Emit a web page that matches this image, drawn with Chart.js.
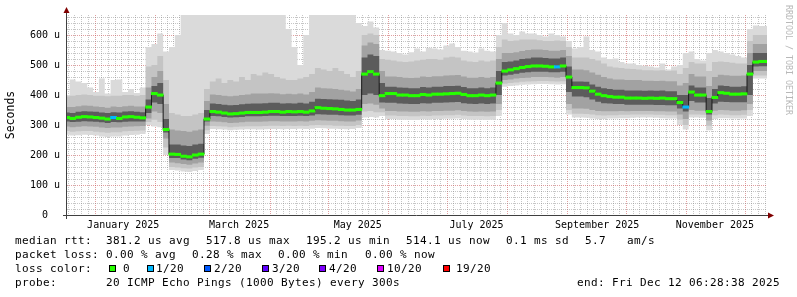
<!DOCTYPE html>
<html>
<head>
<meta charset="utf-8">
<script src="https://cdn.jsdelivr.net/npm/chart.js@4/dist/chart.umd.min.js"></script>
<style>
html, body { margin: 0; padding: 0; background: #fff; }
#wrap { position: relative; width: 797px; height: 297px; overflow: hidden; }
#c { position: absolute; left: 0; top: 0; }
.t { position: absolute; font-family: 'DejaVu Sans Mono', monospace; font-size: 11px; letter-spacing: 0.38px;
     line-height: 14px; color: #000; white-space: pre; }
.b { position: absolute; width: 5px; height: 5px; border: 1px solid #000; }
</style>
</head>
<body>
<div id="wrap"><canvas id="c" width="797" height="297"></canvas></div>
<script>
// sample days, counted from 1 Jan 2025 (one sample every 3 days)
var days = [
  -14.5,-11.5,-8.5,-5.5,-2.5,0.5,3.5,6.5,9.5,12.5,
  15.5,18.5,21.5,24.5,27.5,30.5,33.5,36.5,39.5,42.5,
  45.5,48.5,51.5,54.5,57.5,60.5,63.5,66.5,69.5,72.5,
  75.5,78.5,81.5,84.5,87.5,90.5,93.5,96.5,99.5,102.5,
  105.5,108.5,111.5,114.5,117.5,120.5,123.5,126.5,129.5,132.5,
  135.5,138.5,141.5,144.5,147.5,150.5,153.5,156.5,159.5,162.5,
  165.5,168.5,171.5,174.5,177.5,180.5,183.5,186.5,189.5,192.5,
  195.5,198.5,201.5,204.5,207.5,210.5,213.5,216.5,219.5,222.5,
  225.5,228.5,231.5,234.5,237.5,240.5,243.5,246.5,249.5,252.5,
  255.5,258.5,261.5,264.5,267.5,270.5,273.5,276.5,279.5,282.5,
  285.5,288.5,291.5,294.5,297.5,300.5,303.5,306.5,309.5,312.5,
  315.5,318.5,321.5,324.5,327.5,330.5,333.5,336.5,339.5,342.5,
  345.5
];

// median rtt (microseconds)
var medianRtt = [
  325,322,326,328,327,325,323,320,325,322,
  327,328,326,324,360,405,400,285,203,202,
  196,194,200,203,320,345,343,340,337,338,
  340,342,342,342,343,345,345,343,345,344,
  345,343,347,358,356,355,354,352,350,350,
  352,470,478,470,398,405,405,400,400,398,
  398,402,400,403,403,404,405,406,402,398,
  398,400,398,400,440,480,484,488,492,495,
  497,497,496,494,494,497,460,425,425,424,
  413,403,398,395,393,393,390,390,390,389,
  390,389,390,388,388,375,360,410,400,400,
  345,392,408,406,403,403,404,470,510,512,
  512
];

// lost pings out of 20 for each sample
var lossPings = [
  0,0,0,0,0,0,0,0,1,0, 0,0,0,0,0,0,0,0,0,0,
  0,0,0,0,0,0,0,0,0,0, 0,0,0,0,0,0,0,0,0,0,
  0,0,0,0,0,0,0,0,0,0, 0,0,0,0,0,0,0,0,0,0,
  0,0,0,0,0,0,0,0,0,0, 0,0,0,0,0,0,0,0,0,0,
  0,0,0,0,1,0,0,0,0,0, 0,0,0,0,0,0,0,0,0,0,
  0,0,0,0,0,0,1,0,0,0, 0,0,0,0,0,0,0,0,0,0,
  0
];

// smoke: spread of the 20 pings, outermost to innermost
var smokeMin = [
  268,265,266,268,267,265,262,260,262,262,
  265,267,268,270,300,295,293,200,150,148,
  145,143,147,150,270,287,286,285,283,284,
  285,286,286,285,286,287,287,286,287,287,
  288,287,288,290,289,288,288,287,286,287,
  290,325,327,325,330,320,320,318,318,317,
  317,319,318,320,320,321,321,322,320,318,
  318,318,317,318,330,428,430,432,434,435,
  436,437,437,436,435,436,335,325,325,324,
  322,320,320,322,322,323,323,324,325,325,
  325,324,323,322,322,300,285,325,325,324,
  283,320,323,323,322,322,322,330,455,455,
  455
];
var smokeLo3 = [
  280,278,279,280,280,278,276,274,276,276,
  279,280,281,282,310,318,310,225,160,158,
  156,155,158,160,283,297,296,295,293,294,
  295,296,296,296,297,298,298,297,298,297,
  298,297,299,300,299,299,298,298,297,297,
  300,345,347,343,343,332,332,330,330,329,
  329,331,330,332,332,333,333,334,332,330,
  330,330,329,330,350,438,440,442,444,445,
  446,447,447,446,445,446,350,338,338,337,
  335,333,332,333,333,334,334,335,335,335,
  335,334,334,333,333,318,300,335,335,334,
  298,333,335,334,333,333,334,350,465,465,
  465
];
var smokeLo2 = [
  295,293,294,296,295,294,292,290,292,292,
  294,295,296,297,322,345,340,255,175,173,
  170,168,172,175,298,312,311,309,307,308,
  309,311,311,311,312,313,313,312,312,312,
  313,312,314,316,315,314,314,313,312,312,
  315,370,372,368,355,347,347,345,345,344,
  344,346,345,347,347,348,348,349,347,345,
  344,345,344,345,370,450,452,455,457,458,
  460,460,460,459,458,460,370,355,355,354,
  350,347,346,346,346,347,346,347,347,347,
  347,346,346,345,345,335,320,350,348,348,
  315,348,350,349,348,348,349,370,480,480,
  480
];
var smokeLo1 = [
  312,310,311,313,312,311,309,307,310,309,
  311,312,312,312,340,375,370,275,190,190,
  185,183,188,191,312,330,329,327,325,326,
  327,329,329,329,330,331,331,330,330,330,
  331,330,332,336,335,334,334,333,332,332,
  334,400,405,400,375,374,374,372,371,370,
  370,373,372,374,374,375,376,377,373,371,
  370,372,370,372,400,465,468,471,474,476,
  478,478,478,476,476,478,410,395,395,393,
  385,378,373,372,370,370,368,368,368,368,
  368,367,367,366,366,355,345,380,375,375,
  335,372,378,377,376,376,376,400,495,496,
  496
];
var smokeHi1 = [
  342,340,344,346,345,344,342,340,343,342,
  345,346,344,343,385,430,440,320,235,235,
  232,230,235,238,350,372,370,368,366,367,
  369,371,372,372,373,374,374,372,373,372,
  374,372,378,388,387,386,385,384,382,380,
  385,525,535,530,440,428,428,425,424,423,
  423,427,425,428,428,430,430,431,427,423,
  423,425,423,425,480,510,512,515,520,522,
  525,525,524,522,522,525,495,445,445,444,
  435,428,423,420,418,418,415,415,415,414,
  415,414,415,413,413,400,400,432,425,425,
  390,420,432,430,428,428,429,500,540,540,
  540
];
var smokeHi2 = [
  360,360,363,365,364,362,360,358,362,360,
  363,364,362,362,425,460,480,370,285,282,
  280,278,282,285,380,402,400,398,396,398,
  400,402,405,405,405,406,405,403,404,403,
  405,402,410,425,423,422,420,418,415,412,
  420,565,575,570,480,462,462,460,458,457,
  458,462,460,463,463,465,466,467,462,458,
  458,460,458,460,520,540,540,543,547,550,
  552,552,550,548,548,550,530,485,485,483,
  475,468,460,455,452,452,450,450,450,448,
  448,447,448,446,446,432,440,470,462,462,
  430,460,468,466,464,464,465,540,570,570,
  570
];
var smokeHi3 = [
  395,398,400,402,400,398,398,396,398,398,
  400,400,398,400,495,500,530,450,340,335,
  330,330,335,340,420,445,455,440,450,445,
  460,450,470,465,475,470,460,455,450,450,
  455,460,470,490,485,480,490,480,470,460,
  480,600,605,600,520,518,515,512,510,512,
  515,518,520,520,518,525,528,525,515,512,
  510,515,512,515,560,585,580,582,585,585,
  585,583,580,580,582,580,560,525,525,525,
  520,515,505,495,492,490,488,487,485,483,
  483,482,483,480,482,470,490,510,505,505,
  480,510,512,510,508,505,505,580,600,600,
  600
];
var smokeMax = [
  400,452,445,440,425,410,455,405,450,452,
  410,420,407,425,560,570,605,545,560,600,
  667,667,667,667,667,667,667,667,667,667,
  667,667,667,667,667,667,667,667,620,560,
  500,600,667,667,667,667,667,667,667,667,
  640,630,645,625,550,548,545,540,535,543,
  555,545,558,555,552,565,572,560,548,545,
  542,555,548,545,600,640,605,600,612,605,
  605,600,595,605,600,595,580,555,560,595,
  550,545,525,520,522,510,505,505,500,498,
  495,492,505,485,495,500,540,545,520,515,
  540,550,545,540,535,530,525,620,632,630,
  630
];

// axes
var yTickValues = [0, 100, 200, 300, 400, 500, 600];
var yTickLabels = ['0  ', '100 u', '200 u', '300 u', '400 u', '500 u', '600 u'];
var xLabelDays = [14.5, 74, 135, 196, 258, 318.5];
var xLabels = ['January 2025', 'March 2025', 'May 2025', 'July 2025', 'September 2025', 'November 2025'];
var monthStartDays = [0, 31, 59, 90, 120, 151, 181, 212, 243, 273, 304, 334];

// legend
var rttLabel = 'median rtt:';
var rttStats = ['381.2 us avg', '517.8 us max', '195.2 us min', '514.1 us now', '0.1 ms sd', '5.7   am/s'];
var lossLabel = 'packet loss:';
var lossStats = ['0.00 % avg', '0.28 % max', '0.00 % min', '0.00 % now'];
var colorLabel = 'loss color:';
var lossLegend = ['0', '1/20', '2/20', '3/20', '4/20', '10/20', '19/20'];
var lossColors = ['#26ff00', '#00b8ff', '#0059ff', '#5e00ff', '#7e00ff', '#dd00ff', '#ff0000'];
var probeLabel = 'probe:';
var probeText = '20 ICMP Echo Pings (1000 Bytes) every 300s';
var endText = 'end: Fri Dec 12 06:28:38 2025';

function lossIndex(n) {
  if (n >= 19) return 6;
  if (n >= 10) return 5;
  if (n >= 4) return 4;
  return n;
}

function pts(arr) {
  return arr.map(function (v, i) { return { x: days[i], y: v }; });
}

function layer(arr, fillTo, color, order) {
  return {
    type: 'line', data: pts(arr), stepped: 'middle', pointRadius: 0, borderWidth: 0,
    fill: fillTo === null ? false : { target: fillTo },
    backgroundColor: color || 'rgba(0,0,0,0)', order: order
  };
}

// grid lines: month starts (major) and nine parts per month (minor)
var bounds = [-31].concat(monthStartDays, [365]);
var minorDays = [];
for (var m = 0; m < bounds.length - 1; m++) {
  for (var j = 1; j < 9; j++) {
    minorDays.push(bounds[m] + (bounds[m + 1] - bounds[m]) * j / 9);
  }
}
var xTicks = minorDays.concat(monthStartDays, xLabelDays).filter(function (v) {
  return v > -14.4 && v < 345.27;
}).sort(function (a, b) { return a - b; });
var yGrid = [];
for (var g = 0; g <= 660; g += 20) yGrid.push(g);

var RED = 'rgba(200,80,80,0.55)';
var GRAY = 'rgba(128,128,128,0.45)';
var MONO = 'DejaVu Sans Mono';

var deco = {
  id: 'deco',
  afterDraw: function (chart) {
    var ctx = chart.ctx, a = chart.chartArea;
    ctx.save();
    ctx.strokeStyle = '#404040';
    ctx.lineWidth = 1;
    ctx.beginPath();
    ctx.moveTo(a.left - 0.5, a.bottom + 4);
    ctx.lineTo(a.left - 0.5, a.top - 4);
    ctx.moveTo(a.left - 4, a.bottom + 0.5);
    ctx.lineTo(a.right + 3, a.bottom + 0.5);
    ctx.stroke();
    ctx.fillStyle = '#800000';
    ctx.beginPath();
    ctx.moveTo(a.left - 3.5, a.top - 2);
    ctx.lineTo(a.left + 2.5, a.top - 2);
    ctx.lineTo(a.left - 0.5, a.top - 8);
    ctx.closePath();
    ctx.fill();
    ctx.beginPath();
    ctx.moveTo(a.right + 1, a.bottom - 2.5);
    ctx.lineTo(a.right + 1, a.bottom + 3.5);
    ctx.lineTo(a.right + 7, a.bottom + 0.5);
    ctx.closePath();
    ctx.fill();
    // watermark
    ctx.translate(788, 5);
    ctx.rotate(Math.PI / 2);
    ctx.fillStyle = '#b8b8b8';
    ctx.font = '8.3px "DejaVu Sans Mono"';
    ctx.textBaseline = 'middle';
    ctx.fillText('RRDTOOL / TOBI OETIKER', 0, 0);
    ctx.restore();
  }
};

var ctx = document.getElementById('c').getContext('2d');
var chart = new Chart(ctx, {
  type: 'line',
  data: {
    datasets: [
      layer(smokeMin, null, null, 30),
      layer(smokeMax, 0, '#dadada', 29),
      layer(smokeLo3, null, null, 28),
      layer(smokeHi3, 2, '#c4c4c4', 27),
      layer(smokeLo2, null, null, 26),
      layer(smokeHi2, 4, '#a2a2a2', 25),
      layer(smokeLo1, null, null, 24),
      layer(smokeHi1, 6, '#5c5c5c', 23),
      {
        type: 'line', data: pts(medianRtt), stepped: 'middle', borderColor: '#1a1a1a',
        borderWidth: 1, pointRadius: 0, fill: false, order: 2
      },
      {
        type: 'bar',
        data: medianRtt.map(function (v, i) { return { x: days[i], y: [v - 4, v + 4] }; }),
        backgroundColor: lossPings.map(function (n) { return lossColors[lossIndex(n)]; }),
        barThickness: 6, grouped: false, order: 1
      }
    ]
  },
  options: {
    responsive: false,
    devicePixelRatio: 1,
    animation: false,
    events: [],
    layout: { padding: { left: 0, right: 30, top: 15, bottom: 0 } },
    plugins: { legend: { display: false }, tooltip: { enabled: false } },
    scales: {
      x: {
        type: 'linear', position: 'bottom', min: -14.4, max: 345.27, offset: false, z: 1,
        afterBuildTicks: function (s) { s.ticks = xTicks.map(function (v) { return { value: v }; }); },
        afterFit: function (s) { s.height = 82; },
        ticks: {
          autoSkip: false, maxRotation: 0, minRotation: 0, padding: 4, color: '#000',
          font: { family: MONO, size: 10 },
          callback: function (v) { var i = xLabelDays.indexOf(v); return i < 0 ? '' : xLabels[i]; }
        },
        grid: {
          drawTicks: false, offset: false, lineWidth: 1,
          color: function (c) {
            var v = c.tick ? c.tick.value : null;
            if (monthStartDays.indexOf(v) >= 0) return RED;
            if (minorDays.indexOf(v) >= 0) return GRAY;
            return 'rgba(0,0,0,0)';
          }
        },
        border: { display: false, dash: [1, 1] }
      },
      y: {
        type: 'linear', min: 0, max: 667, z: 1,
        afterBuildTicks: function (s) { s.ticks = yGrid.map(function (v) { return { value: v }; }); },
        afterFit: function (s) { s.width = 67; },
        ticks: {
          autoSkip: false, padding: 7, color: '#000', font: { family: MONO, size: 10 },
          callback: function (v) { var i = yTickValues.indexOf(v); return i < 0 ? '' : yTickLabels[i]; }
        },
        grid: {
          drawTicks: false, lineWidth: 1,
          color: function (c) { return c.tick && yTickValues.indexOf(c.tick.value) >= 0 ? RED : GRAY; }
        },
        border: { display: false, dash: [1, 1] },
        title: {
          display: true, text: 'Seconds', color: '#000',
          font: { family: MONO, size: 11.5 }, padding: { top: 4, bottom: 0 }
        }
      }
    }
  },
  plugins: [deco]
});

// legend text under the chart
var wrap = document.getElementById('wrap');
function txt(x, baseline, s) {
  var d = document.createElement('div');
  d.className = 't';
  d.style.left = x + 'px';
  d.style.top = (baseline - 11) + 'px';
  d.textContent = s;
  wrap.appendChild(d);
}
function box(x, top, color) {
  var d = document.createElement('div');
  d.className = 'b';
  d.style.left = x + 'px';
  d.style.top = top + 'px';
  d.style.background = color;
  wrap.appendChild(d);
}

var rttX = [106, 206, 306, 406, 506, 585];
var lossX = [106, 192, 278, 365];
var boxX = [109, 147, 204, 262, 319, 377, 443];
var boxTextX = [123, 156, 214, 272, 329, 387, 456];

txt(15, 245, rttLabel);
rttStats.forEach(function (s, i) { txt(rttX[i], 245, s); });
txt(15, 259, lossLabel);
lossStats.forEach(function (s, i) { txt(lossX[i], 259, s); });
txt(15, 273, colorLabel);
lossLegend.forEach(function (s, i) {
  box(boxX[i], 265, lossColors[i]);
  txt(boxTextX[i], 273, s);
});
txt(15, 287, probeLabel);
txt(106, 287, probeText);
txt(577, 287, endText);
</script>
</body>
</html>
